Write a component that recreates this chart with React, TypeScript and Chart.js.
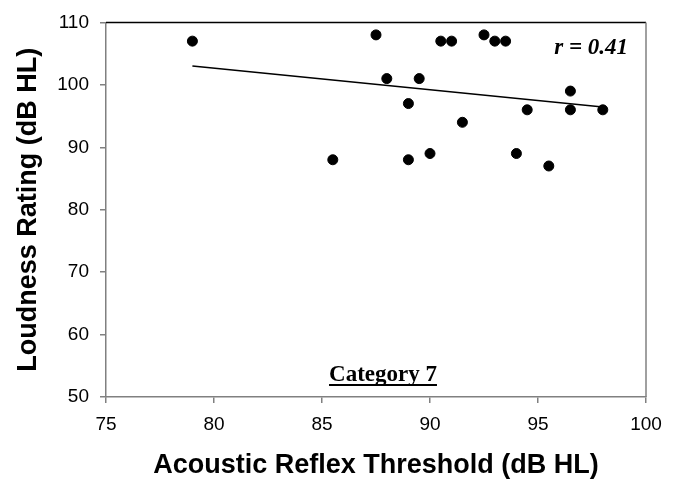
import React, { useEffect, useRef } from "react";
import { Chart, registerables } from "chart.js";

Chart.register(...registerables);

const thresholdX: number[] = [79, 85.5, 87.5, 88, 89, 89, 89.5, 90, 90.5, 91, 91.5, 92.5, 93, 93.5, 94, 94.5, 95.5, 96.5, 96.5, 98];
const loudnessY: number[] = [107, 88, 108, 101, 97, 88, 101, 89, 107, 107, 94, 108, 107, 107, 89, 96, 87, 99, 96, 96];
const trendX: number[] = [79, 98];
const trendY: number[] = [103.0, 96.45];
const xTickValues: number[] = [75, 80, 85, 90, 95, 100];
const yTickValues: number[] = [50, 60, 70, 80, 90, 100, 110];
const rLabel = "r = 0.41";
const categoryLabel = "Category 7";

const annotationPlugin = {
  id: "annotations",
  afterDraw(chart: any) {
    const { ctx, chartArea } = chart;
    const { left, right, top, bottom } = chartArea;
    ctx.save();
    // frame: top black, right gray
    ctx.lineWidth = 1.5;
    ctx.strokeStyle = "#000000";
    ctx.beginPath();
    ctx.moveTo(left, top);
    ctx.lineTo(right, top);
    ctx.stroke();
    ctx.strokeStyle = "#808080";
    ctx.beginPath();
    ctx.moveTo(right, top);
    ctx.lineTo(right, bottom);
    ctx.stroke();

    // r label
    ctx.fillStyle = "#000000";
    ctx.font = "italic bold 23px 'Liberation Serif', 'Times New Roman', serif";
    ctx.textAlign = "right";
    ctx.textBaseline = "middle";
    ctx.fillText(rLabel, right - 18, top + 26);

    // Category label, underlined
    ctx.font = "bold 23px 'Liberation Serif', 'Times New Roman', serif";
    ctx.textAlign = "center";
    ctx.textBaseline = "alphabetic";
    const cx = (left + right) / 2 + 7;
    const by = bottom - 16;
    ctx.fillText(categoryLabel, cx, by);
    const w = ctx.measureText(categoryLabel).width;
    ctx.fillRect(cx - w / 2, by + 3, w, 2);
    ctx.restore();
  },
};

export default function App() {
  const canvasRef = useRef<HTMLCanvasElement | null>(null);

  useEffect(() => {
    document.body.style.margin = "0";
    const canvas = canvasRef.current;
    if (!canvas) return;
    const scatterData = thresholdX.map((x, i) => ({ x, y: loudnessY[i] }));
    const trendData = trendX.map((x, i) => ({ x, y: trendY[i] }));
    const tickFont = { family: "'Liberation Sans', Arial, sans-serif", size: 19 };
    const titleFont = { family: "'Liberation Sans', Arial, sans-serif", size: 27, weight: "bold" as const };

    const chart = new Chart(canvas, {
      type: "scatter",
      data: {
        datasets: [
          {
            type: "line",
            data: trendData,
            borderColor: "#000000",
            borderWidth: 1.5,
            pointRadius: 0,
            fill: false,
          } as any,
          {
            type: "scatter",
            data: scatterData,
            backgroundColor: "#000000",
            borderColor: "#000000",
            pointRadius: 5,
            pointHoverRadius: 5,
          },
        ],
      },
      options: {
        responsive: false,
        animation: false,
        devicePixelRatio: 1,
        layout: { padding: { top: 19, right: 35, left: 0, bottom: 0 } },
        plugins: { legend: { display: false }, tooltip: { enabled: false }, title: { display: false } },
        scales: {
          x: {
            type: "linear",
            min: 75,
            max: 100,
            afterBuildTicks: (scale: any) => {
              scale.ticks = xTickValues.map((v) => ({ value: v }));
            },
            afterFit: (scale: any) => {
              scale.height = 86;
            },
            ticks: { font: tickFont, color: "#000000", padding: 10, maxRotation: 0 },
            grid: { drawOnChartArea: false, drawTicks: true, tickLength: 6, color: "#808080", lineWidth: 1.5 },
            border: { display: true, color: "#808080", width: 1.5 },
            title: {
              display: true,
              text: "Acoustic Reflex Threshold (dB HL)",
              font: titleFont,
              color: "#000000",
              padding: { top: 0, bottom: 1 },
            },
          },
          y: {
            type: "linear",
            min: 50,
            max: 110,
            afterBuildTicks: (scale: any) => {
              scale.ticks = yTickValues.map((v) => ({ value: v }));
            },
            afterFit: (scale: any) => {
              scale.width = 106;
            },
            ticks: { font: tickFont, color: "#000000", padding: 11 },
            grid: { drawOnChartArea: false, drawTicks: true, tickLength: 6, color: "#808080", lineWidth: 1.5 },
            border: { display: true, color: "#808080", width: 1.5 },
            title: {
              display: true,
              text: "Loudness Rating (dB HL)",
              font: titleFont,
              color: "#000000",
              padding: { top: 12, bottom: 0 },
            },
          },
        },
      },
      plugins: [annotationPlugin],
    });
    return () => chart.destroy();
  }, []);

  return (
    <div style={{ width: 681, height: 483 }}>
      <canvas ref={canvasRef} width={681} height={483} style={{ display: "block", width: 681, height: 483 }} />
    </div>
  );
}
